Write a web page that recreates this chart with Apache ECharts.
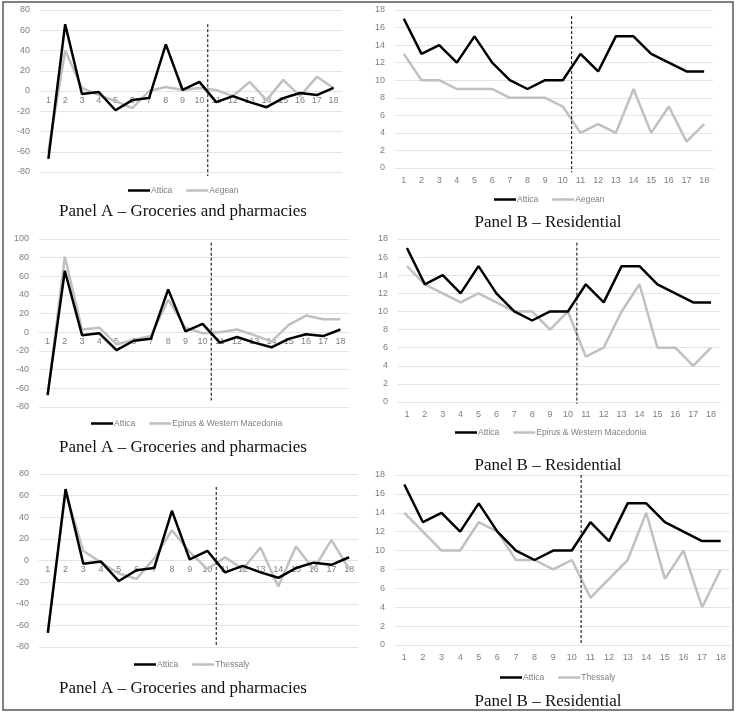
<!DOCTYPE html>
<html><head><meta charset="utf-8">
<script src="https://cdn.jsdelivr.net/npm/echarts@6/dist/echarts.min.js"></script>
<style>html,body{margin:0;padding:0;background:#fff}#c{width:740px;height:715px}</style>
</head><body><div id="c"></div>
<script>
const categories = ['1','2','3','4','5','6','7','8','9','10','11','12','13','14','15','16','17','18'];
const atticaA = [-67, 66, -3, -1, -19, -9, -7, 46, 1, 9, -11, -5, -11, -16, -7, -2, -4, 3];
const atticaB = [17, 13, 14, 12, 15, 12, 10, 9, 10, 10, 13, 11, 15, 15, 13, 12, 11, 11];
const aegeanA = [-60, 40, 3, -4, -10, -17, 0, 4, 1, 3, 1, -5, 9, -9, 11, -5, 14, 3];
const aegeanB = [13, 10, 10, 9, 9, 9, 8, 8, 8, 7, 4, 5, 4, 9, 4, 7, 3, 5];
const epirusA = [-68, 81, 3, 5, -13, -8, -4, 35, 5, -1, 0, 3, -3, -10, 8, 18, 14, 14];
const epirusB = [15, 13, 12, 11, 12, 11, 10, 10, 8, 10, 5, 6, 10, 13, 6, 6, 4, 6];
const thessalyA = [-65, 63, 9, -2, -12, -17, 2, 28, 8, -8, 3, -8, 12, -24, 13, -8, 19, -8];
const thessalyB = [14, 12, 10, 10, 13, 12, 9, 9, 8, 9, 5, 7, 9, 14, 7, 10, 4, 8];
const regionNames = ['Aegean', 'Epirus & Western Macedonia', 'Thessaly'];
const titleA = 'Panel A \u2013 Groceries and pharmacies';
const titleB = 'Panel B \u2013 Residential';
const dividerX = 10.5;

const panels = [
  {grid:{left:40,top:10,width:302,height:162}, y:{min:-80,max:80,interval:20}, a:atticaA, o:aegeanA, name:regionNames[0], div:[66,-84], leg:{x:183,y:191}, title:{t:titleA,x:183,y:212}, m:5},
  {grid:{left:395,top:10,width:318,height:158}, y:{min:0,max:18,interval:2}, a:atticaB, o:aegeanB, name:regionNames[0], div:[17.3,-0.5], leg:{x:549,y:200}, title:{t:titleB,x:548,y:223}, m:8},
  {grid:{left:39,top:239,width:310,height:168}, y:{min:-80,max:100,interval:20}, a:atticaA, o:epirusA, name:regionNames[1], div:[96,-73], leg:{x:187,y:424}, title:{t:titleA,x:183,y:448}, m:5},
  {grid:{left:398,top:239,width:322,height:163}, y:{min:0,max:18,interval:2}, a:atticaB, o:epirusB, name:regionNames[1], div:[17.6,-0.2], leg:{x:551,y:433}, title:{t:titleB,x:548,y:466}, m:8},
  {grid:{left:39,top:474,width:319,height:173}, y:{min:-80,max:80,interval:20}, a:atticaA, o:thessalyA, name:regionNames[2], div:[68,-79], leg:{x:192,y:665}, title:{t:titleA,x:183,y:689}, m:5},
  {grid:{left:395,top:475,width:335,height:170}, y:{min:0,max:18,interval:2}, a:atticaB, o:thessalyB, name:regionNames[2], div:[18,0], leg:{x:558,y:678}, title:{t:titleB,x:548,y:702}, m:8}
];

const legFont = '8.5px "Liberation Sans"';
const ctx = document.createElement('canvas').getContext('2d');
ctx.font = legFont;
const iconW = 22, textGap = 1, itemGap = 14;
function legendWidth(names){
  let w = 0;
  names.forEach((n,k)=>{ w += iconW + textGap + ctx.measureText(n).width; if(k<names.length-1) w += itemGap; });
  return w;
}

const grid=[], xAxis=[], yAxis=[], series=[], legend=[], graphic=[];
const lbl = {color:'#7f7f7f', fontSize:9, fontFamily:'Liberation Sans'};
panels.forEach((p,i)=>{
  grid.push(Object.assign({containLabel:false}, p.grid));
  xAxis.push({type:'category', gridIndex:i, data:categories, boundaryGap:true, position:'bottom', offset:0, z:0,
    axisLine:{show:true, onZero:false, lineStyle:{color:'#e3e3e3', width:1}}, axisTick:{show:false},
    axisLabel:Object.assign({margin:p.m, interval:0}, lbl), splitLine:{show:false}});
  xAxis.push({type:'value', gridIndex:i, min:0.5, max:18.5, show:false, position:'top', axisLine:{onZero:false}});
  yAxis.push({type:'value', gridIndex:i, min:p.y.min, max:p.y.max, interval:p.y.interval,
    axisLine:{show:false, onZero:false}, axisTick:{show:false}, axisLabel:Object.assign({margin:10}, lbl),
    splitLine:{lineStyle:{color:'#e3e3e3', width:1}}});
  series.push({type:'line', name:'Attica', xAxisIndex:2*i, yAxisIndex:i, data:p.a, symbol:'none',
    lineStyle:{color:'#000', width:2.5}, itemStyle:{color:'#000'}, z:3});
  series.push({type:'line', name:p.name, xAxisIndex:2*i, yAxisIndex:i, data:p.o, symbol:'none',
    lineStyle:{color:'#c0c0c0', width:2.5}, itemStyle:{color:'#c0c0c0'}, z:2});
  series.push({type:'line', name:'divider'+i, xAxisIndex:2*i+1, yAxisIndex:i, data:[[dividerX,p.div[0]],[dividerX,p.div[1]]],
    symbol:'none', clip:false, silent:true, lineStyle:{color:'#000', width:1, type:[3,2]}, z:4});
  const names = ['Attica', p.name];
  legend.push({data:names, left:Math.round(p.leg.x - legendWidth(names)/2), top:p.leg.y - 5, padding:0,
    icon:'rect', itemWidth:iconW, itemHeight:2.5, itemGap:itemGap,
    textStyle:{color:'#7f7f7f', fontSize:8.5, fontFamily:'Liberation Sans', padding:[0,0,0,-4]}, selectedMode:false});
  graphic.push({type:'text', x:p.title.x, y:p.title.y, style:{text:p.title.t, align:'center', verticalAlign:'middle',
    font:'17px "Liberation Serif"', fill:'#111'}});
});
graphic.push({type:'rect', shape:{x:3,y:2,width:730,height:708}, style:{fill:'none', stroke:'#555', lineWidth:1.5}, z:-1});

const chart = echarts.init(document.getElementById('c'));
chart.setOption({animation:false, grid, xAxis, yAxis, series, legend, graphic});

// place category axis (and its labels) on the y = 0 line, like the original
const xUpd = xAxis.map(()=>({}));
panels.forEach((p,i)=>{
  const zeroPx = chart.convertToPixel({yAxisIndex:i}, 0);
  const bottomPx = p.grid.top + p.grid.height;
  xUpd[2*i] = {offset: zeroPx - bottomPx};
});
chart.setOption({xAxis: xUpd});
</script>
</body></html>
